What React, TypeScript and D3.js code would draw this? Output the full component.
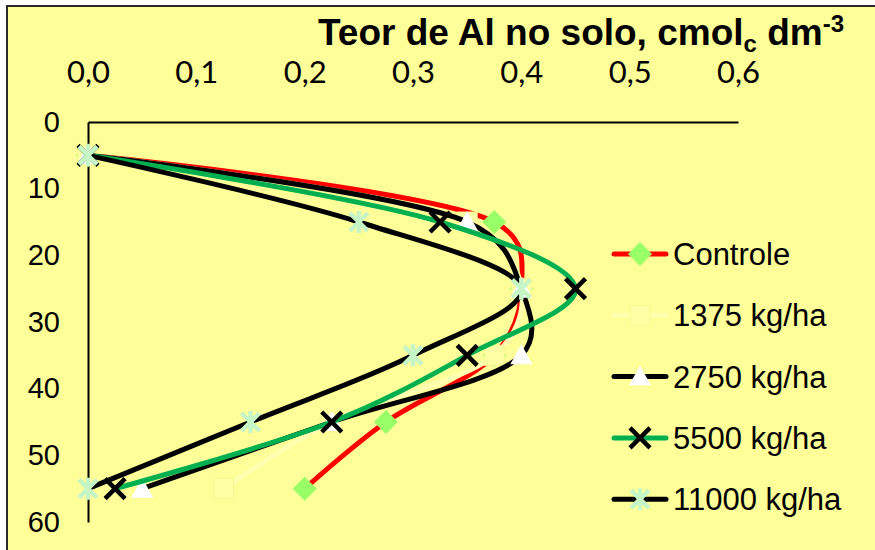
import React, { useRef, useEffect } from "react";
import * as d3 from "d3";

// depth (cm) and Al content per treatment
const depths = [5, 15, 25, 35, 45, 55];
const controle = [0, 0.375, 0.4, 0.375, 0.275, 0.2];
const dose1375 = [0, 0.35, 0.4, 0.375, 0.225, 0.125];
const dose2750 = [0, 0.35, 0.4, 0.4, 0.225, 0.05];
const dose5500 = [0, 0.325, 0.45, 0.35, 0.225, 0.025];
const dose11000 = [0, 0.25, 0.4, 0.3, 0.15, 0];
const seriesNames = ["Controle", "1375 kg/ha", "2750 kg/ha", "5500 kg/ha", "11000 kg/ha"];
const xTicks = [0, 0.1, 0.2, 0.3, 0.4, 0.5, 0.6];
const yTicks = [0, 10, 20, 30, 40, 50, 60];

type Marker = "diamond" | "square" | "triangle" | "x" | "star";

const styles: { color: string; marker: Marker; mfill: string; mstroke: string }[] = [
  { color: "#FF0000", marker: "diamond", mfill: "#99FF66", mstroke: "none" },
  { color: "#FFFFB0", marker: "square", mfill: "#FFFFA6", mstroke: "#F7F78E" },
  { color: "#000000", marker: "triangle", mfill: "#FFFFFF", mstroke: "none" },
  { color: "#00B050", marker: "x", mfill: "none", mstroke: "#000000" },
  { color: "#000000", marker: "star", mfill: "none", mstroke: "#C6F5C6" },
];

const markerPath = (m: Marker, cx: number, cy: number) => {
  const p = d3.path();
  if (m === "diamond") {
    p.moveTo(cx, cy - 12);
    p.lineTo(cx + 12, cy);
    p.lineTo(cx, cy + 12);
    p.lineTo(cx - 12, cy);
    p.closePath();
  } else if (m === "square") {
    p.rect(cx - 10, cy - 10, 20, 20);
  } else if (m === "triangle") {
    p.moveTo(cx, cy - 11);
    p.lineTo(cx + 11, cy + 9);
    p.lineTo(cx - 11, cy + 9);
    p.closePath();
  } else if (m === "x") {
    p.moveTo(cx - 10, cy - 10);
    p.lineTo(cx + 10, cy + 10);
    p.moveTo(cx + 10, cy - 10);
    p.lineTo(cx - 10, cy + 10);
  } else {
    p.moveTo(cx - 9, cy - 9);
    p.lineTo(cx + 9, cy + 9);
    p.moveTo(cx + 9, cy - 9);
    p.lineTo(cx - 9, cy + 9);
    p.moveTo(cx, cy - 11);
    p.lineTo(cx, cy + 11);
  }
  return p.toString();
};

const App = () => {
  const svgRef = useRef<SVGSVGElement>(null);

  useEffect(() => {
    if (!svgRef.current) return;
    const svg = d3.select(svgRef.current);
    svg.selectAll("*").remove();

    const all = [controle, dose1375, dose2750, dose5500, dose11000];

    // frame
    svg
      .append("rect")
      .attr("x", 7)
      .attr("y", 6)
      .attr("width", 900)
      .attr("height", 600)
      .attr("fill", "#FFFF99")
      .attr("stroke", "#2a2a2a")
      .attr("stroke-width", 2);

    const x = d3.scaleLinear().domain([0, 0.6]).range([88, 738]);
    const y = d3.scaleLinear().domain([0, 60]).range([122, 522]);

    const fmt = d3
      .formatLocale({ decimal: ",", thousands: ".", grouping: [3], currency: ["", ""] })
      .format(".1f");

    // top axis
    const xAxis = svg
      .append("g")
      .attr("transform", `translate(0,${y(0)})`)
      .call(d3.axisTop(x).tickValues(xTicks).tickFormat((d) => fmt(d as number)).tickSize(0).tickPadding(39));
    xAxis.select(".domain").attr("stroke", "#000").attr("stroke-width", 2);
    xAxis
      .selectAll("text")
      .attr("font-family", "Lato, 'Open Sans', sans-serif")
      .attr("font-size", 31)
      .attr("fill", "#000");

    // left axis
    const yAxis = svg
      .append("g")
      .attr("transform", `translate(${x(0)},0)`)
      .call(d3.axisLeft(y).tickValues(yTicks).tickSize(0).tickPadding(28));
    yAxis.select(".domain").attr("stroke", "#000").attr("stroke-width", 2);
    yAxis
      .selectAll("text")
      .attr("font-family", "'Liberation Sans', Arial, sans-serif")
      .attr("font-size", 29)
      .attr("fill", "#000");

    // title
    const title = svg
      .append("text")
      .attr("x", 318)
      .attr("y", 45)
      .attr("font-family", "'Liberation Sans', Arial, sans-serif")
      .attr("font-weight", "bold")
      .attr("font-size", 37)
      .attr("fill", "#000");
    title.append("tspan").text("Teor de Al no solo, cmol");
    title.append("tspan").attr("dy", 7).attr("font-size", 24).text("c");
    title.append("tspan").attr("dy", -7).text(" dm");
    title.append("tspan").attr("dy", -13).attr("font-size", 24).text("-3");

    const line = d3
      .line<number>()
      .x((d) => x(d))
      .y((_, i) => y(depths[i]))
      .curve(d3.curveCatmullRom.alpha(0.3));

    // lines then markers
    all.forEach((vals, s) => {
      const st = styles[s];
      svg
        .append("path")
        .attr("d", line(vals) as string)
        .attr("fill", "none")
        .attr("stroke", st.color)
        .attr("stroke-width", 5)
        .attr("stroke-linejoin", "round");
      svg
        .append("g")
        .selectAll("path")
        .data(vals)
        .enter()
        .append("path")
        .attr("d", (d, i) => markerPath(st.marker, x(d), y(depths[i])))
        .attr("fill", st.mfill)
        .attr("stroke", st.mstroke)
        .attr("stroke-width", st.marker === "x" || st.marker === "star" ? 4.5 : 1);
    });

    // legend
    const legend = svg.append("g");
    seriesNames.forEach((name, s) => {
      const st = styles[s];
      const ly = 254 + s * 61.3;
      legend
        .append("line")
        .attr("x1", 614)
        .attr("x2", 666)
        .attr("y1", ly)
        .attr("y2", ly)
        .attr("stroke", st.color)
        .attr("stroke-width", 5)
        .attr("stroke-linecap", "round");
      legend
        .append("path")
        .attr("d", markerPath(st.marker, 640, ly))
        .attr("fill", st.mfill)
        .attr("stroke", st.mstroke)
        .attr("stroke-width", st.marker === "x" || st.marker === "star" ? 4.5 : 1);
      legend
        .append("text")
        .attr("x", 673)
        .attr("y", ly + 11)
        .attr("font-family", "'Liberation Sans', Arial, sans-serif")
        .attr("font-size", 31)
        .attr("fill", "#000")
        .text(name);
    });
  }, []);

  return (
    <svg
      ref={svgRef}
      width={875}
      height={550}
      style={{ position: "absolute", left: 0, top: 0, background: "#fff" }}
    ></svg>
  );
};

export default App;
